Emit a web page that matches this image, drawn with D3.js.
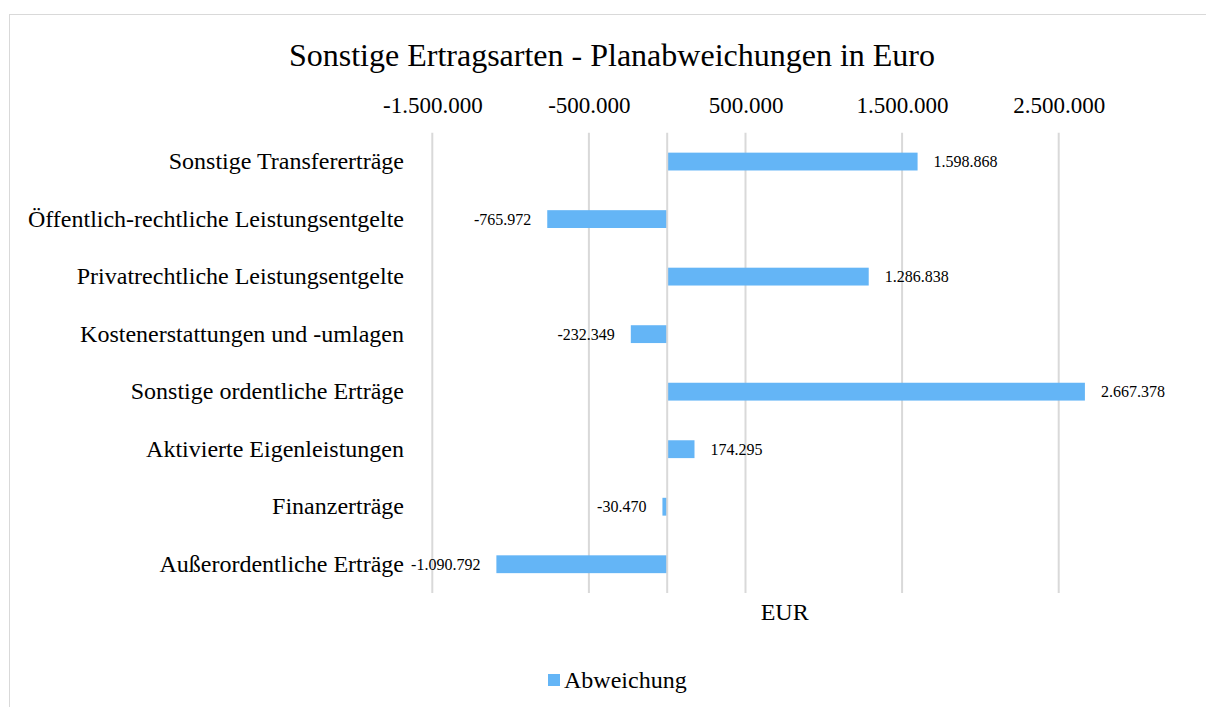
<!DOCTYPE html>
<html><head><meta charset="utf-8">
<script src="https://cdn.jsdelivr.net/npm/d3@7"></script>
<style>body{margin:0;background:#fff}svg{display:block}</style>
</head><body>
<svg id="c" width="1206" height="707"></svg>
<script>
const categories = ["Sonstige Transfererträge","Öffentlich-rechtliche Leistungsentgelte","Privatrechtliche Leistungsentgelte","Kostenerstattungen und -umlagen","Sonstige ordentliche Erträge","Aktivierte Eigenleistungen","Finanzerträge","Außerordentliche Erträge"];
const values = [1598868,-765972,1286838,-232349,2667378,174295,-30470,-1090792];
const tickValues = [-1500000,-500000,500000,1500000,2500000];
const seriesName = "Abweichung";
const title = "Sonstige Ertragsarten - Planabweichungen in Euro";
const axisTitle = "EUR";

const font = "'Liberation Serif','Times New Roman',serif";
const svg = d3.select("#c");
const fmt = v => d3.formatLocale({decimal:",",thousands:".",grouping:[3],currency:["","€"],minus:"-"}).format(",d")(v);

svg.append("rect").attr("x",9.5).attr("y",14.5).attr("width",1220).attr("height",720)
  .attr("fill","#fff").attr("stroke","#d9d9d9");

const L=432.3, R=1137, T=132.8, B=593;
const x = d3.scaleLinear().domain([-1500000,3000000]).range([L,R]);
const y = d3.scaleBand().domain(categories).range([T,B]).paddingInner(0.69).paddingOuter(0.345);

svg.append("text").attr("x",612).attr("y",66).attr("text-anchor","middle")
  .attr("font-family",font).attr("font-size",32).attr("fill","#000").text(title);

const g = svg.append("g");
g.selectAll("line.grid").data(tickValues).join("line").attr("class","grid")
  .attr("x1",d=>x(d)).attr("x2",d=>x(d)).attr("y1",T).attr("y2",B)
  .attr("stroke","#d9d9d9").attr("stroke-width",2);

const ax = d3.axisTop(x).tickValues(tickValues).tickFormat(fmt).tickSize(0).tickPadding(0);
const axG = svg.append("g").attr("transform",`translate(0,${T})`).call(ax);
axG.select(".domain").remove();
axG.selectAll("text").attr("font-family",font).attr("font-size",23).attr("fill","#000")
  .attr("dy",0).attr("y",-20);

g.selectAll("rect.bar").data(values).join("rect").attr("class","bar")
  .attr("x",d=>x(Math.min(0,d))).attr("width",d=>Math.abs(x(d)-x(0)))
  .attr("y",(d,i)=>y(categories[i])).attr("height",y.bandwidth())
  .attr("fill","#64b5f6");

g.append("line").attr("x1",x(0)).attr("x2",x(0)).attr("y1",T).attr("y2",B)
  .attr("stroke","#d9d9d9").attr("stroke-width",2);

g.selectAll("text.lbl").data(values).join("text").attr("class","lbl")
  .attr("x",d=>d>=0 ? x(d)+16 : x(d)-16)
  .attr("y",(d,i)=>y(categories[i])+y.bandwidth()/2)
  .attr("dy","0.35em").attr("text-anchor",d=>d>=0?"start":"end")
  .attr("font-family",font).attr("font-size",16).attr("fill","#000").text(fmt);

const cy = d3.axisLeft(y).tickSize(0).tickPadding(0);
const cyG = svg.append("g").attr("transform",`translate(404,0)`).call(cy);
cyG.select(".domain").remove();
cyG.selectAll("text").attr("font-family",font).attr("font-size",24).attr("fill","#000");

svg.append("text").attr("x",(L+R)/2).attr("y",620).attr("text-anchor","middle")
  .attr("font-family",font).attr("font-size",24).attr("fill","#000").text(axisTitle);

svg.append("rect").attr("x",548).attr("y",674).attr("width",12).attr("height",12).attr("fill","#64b5f6");
svg.append("text").attr("x",564).attr("y",688).attr("font-family",font).attr("font-size",24).attr("fill","#000").text(seriesName);
</script>
</body></html>
